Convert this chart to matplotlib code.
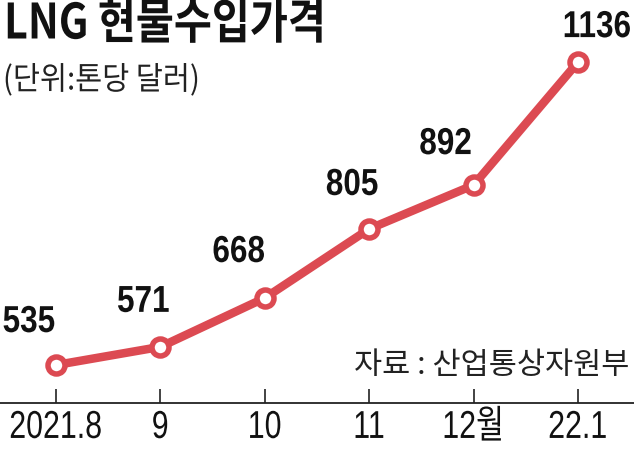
import matplotlib
matplotlib.use('Agg')
import matplotlib.pyplot as plt
from matplotlib import patheffects
from matplotlib.path import Path

# Data
months = ['2021.8', '9', '10', '11', '12월', '22.1']
prices = [535, 571, 668, 805, 892, 1136]
# label offsets in pixels (dx, dy) relative to each point
label_offsets = [(-27, 43), (-17, 45), (-26, 46), (-17, 44), (-28, 41), (19, 35)]

num_fam = ['Liberation Sans', 'Noto Sans CJK KR']
kr_fam = ['Noto Sans CJK KR', 'DejaVu Sans']

RED = '#DC4A52'
W, H, DPI = 634, 450, 100
px = 72 / DPI  # pixels -> points


class Squeeze(patheffects.AbstractPathEffect):
    """narrow the glyphs horizontally (condensed look), keeping the anchor edge"""
    def __init__(self, sx, anchor='center'):
        super().__init__()
        self.sx = sx
        self.anchor = anchor

    def draw_path(self, renderer, gc, tpath, affine, rgbFace=None):
        v = tpath.vertices.copy()
        if len(v):
            if self.anchor == 'left':
                xm = v[:, 0].min()
            elif self.anchor == 'right':
                xm = v[:, 0].max()
            else:
                xm = (v[:, 0].min() + v[:, 0].max()) / 2
            v[:, 0] = xm + (v[:, 0] - xm) * self.sx
        renderer.draw_path(gc, Path(v, tpath.codes), affine, rgbFace)


fig = plt.figure(figsize=(W / DPI, H / DPI), dpi=DPI)
axis_px = 403
ax = fig.add_axes([0, (H - axis_px) / H, 1, axis_px / H])

x = list(range(len(prices)))
ax.plot(x, prices, color=RED, lw=8.5 * px, solid_capstyle='round', zorder=2)
ax.plot(x, prices, 'o', ms=17 * px, mfc='white', mec=RED, mew=5.5 * px, zorder=3)

for i, (v, (dx, dy)) in enumerate(zip(prices, label_offsets)):
    ax.annotate(str(v), (i, v), xytext=(dx * px, dy * px), textcoords='offset points',
                ha='center', va='center', fontsize=27, fontweight='bold',
                family=num_fam, color='#111111',
                path_effects=[Squeeze(0.84)])

# scales: point i at pixel 56 + i*104.4, 535 at pixel 365, 0.504 px per dollar
x0, step = 56, 104.4
ax.set_xlim(-x0 / step, (W - x0) / step)
scale = 0.504
ax.set_ylim(535 - (axis_px - 365) / scale, 535 + 365 / scale)

for s in ['top', 'right', 'left']:
    ax.spines[s].set_visible(False)
ax.spines['bottom'].set_color('#222222')
ax.spines['bottom'].set_linewidth(1.3)
ax.set_yticks([])
ax.set_xticks(x)
ax.set_xticklabels(months, family=num_fam, fontsize=28, color='#111111',
                   path_effects=[Squeeze(0.78)])
ax.tick_params(axis='x', direction='in', length=10, width=1.2, color='#222222', pad=5)
ax.patch.set_alpha(0)

fig.text(4 / W, 1 - 24 / H, 'LNG 현물수입가격', family=kr_fam, fontsize=35,
         fontweight='bold', va='center', ha='left', color='#111111',
         path_effects=[Squeeze(0.85, 'left')])
fig.text(3 / W, 1 - 80 / H, '(단위:톤당 달러)', family=kr_fam, fontsize=23,
         va='center', ha='left', color='#222222', path_effects=[Squeeze(0.92, 'left')])
fig.text(629 / W, 1 - 365 / H, '자료 : 산업통상자원부', family=kr_fam, fontsize=22,
         va='center', ha='right', color='#222222')

fig.savefig('out.png', dpi=DPI)
